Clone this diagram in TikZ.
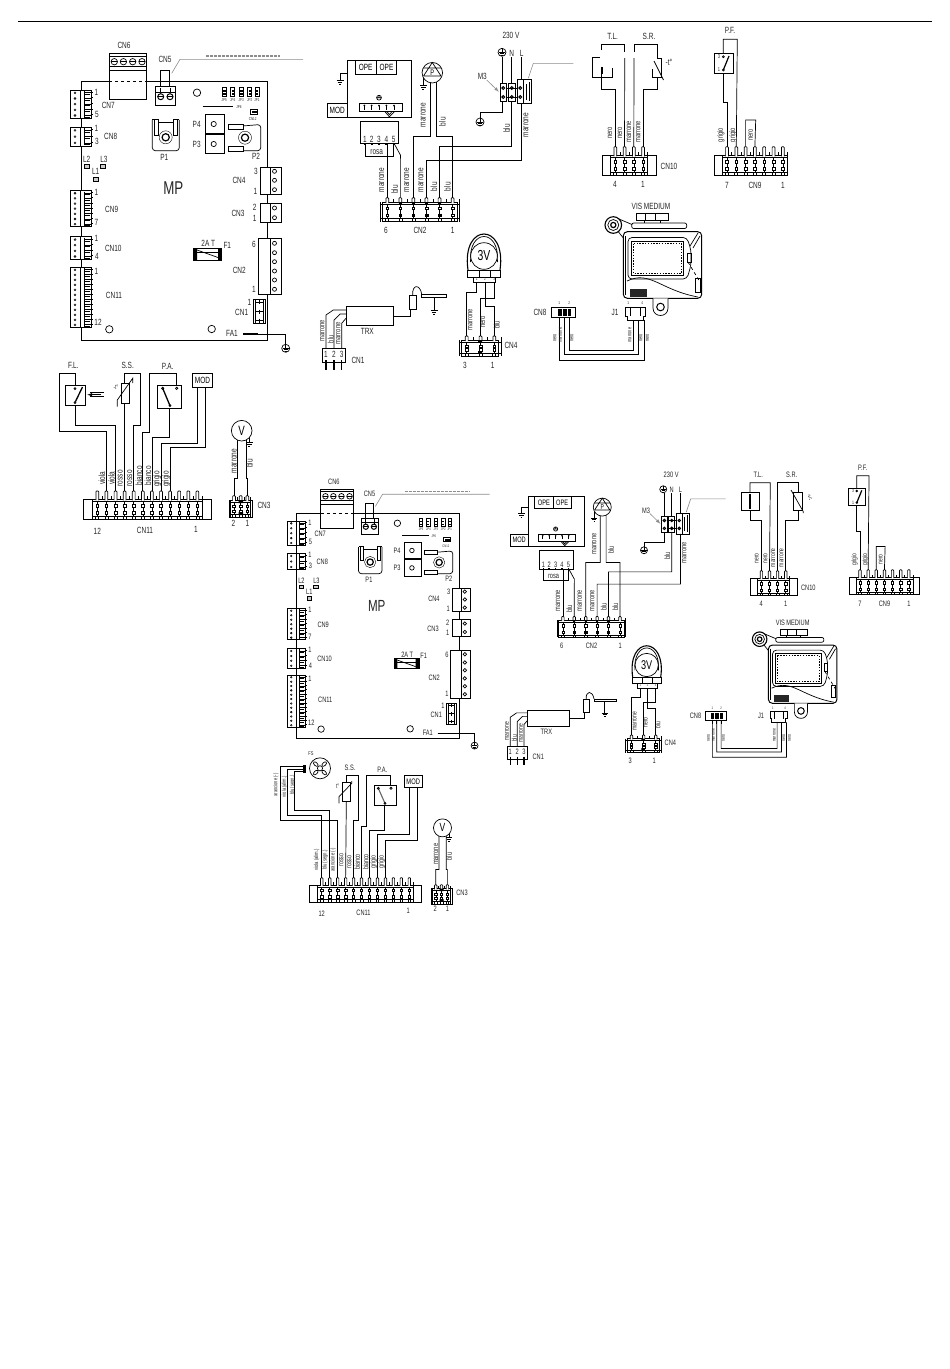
\documentclass[tikz,border=0pt]{standalone}
\usepackage{fontspec}
\setmainfont[FakeStretch=0.72]{Liberation Sans}
\tikzset{
  wire/.style={line width=.7pt},
  lead/.style={line width=.6pt,draw=black!45},
  lab/.style={inner sep=0pt,text=black!85,font=\fontsize{9}{10}\selectfont},
  wirelab/.style={lab,rotate=90},
  minilab/.style={lab,rotate=90,font=\fontsize{8}{8}\selectfont},
  tinylab/.style={lab,font=\fontsize{4.2}{5}\selectfont},
  devbox/.style={draw,line width=.7pt,fill=white,inner sep=0pt},
}
\newcommand{\earthsym}[2]{%
  \draw[wire,fill=white] (#1,#2) circle (4);
  \draw[wire] (#1,#2-4) -- (#1,#2) (#1-3,#2) -- (#1+3,#2) (#1-2,#2+1.5) -- (#1+2,#2+1.5) (#1-1,#2+3) -- (#1+1,#2+3);
}
\newcommand{\gndsym}[2]{%
  \draw[wire] (#1-3.5,#2) -- (#1+3.5,#2) (#1-2.3,#2+2) -- (#1+2.3,#2+2) (#1-1,#2+4) -- (#1+1,#2+4);
}
% name, left, top, right, bottom, first pin, pitch, pins, tip length
\newcommand{\hconn}[9]{%
  \draw[wire,fill=white] (#2,#3) rectangle (#4,#5);
  \pgfmathsetmacro{\combl}{#6-#7/2}
  \pgfmathsetmacro{\combr}{#6+(#8-.5)*#7}
  \draw[wire] (\combl,#3+2.5) -- (\combr,#3+2.5) (\combl,#5-3) -- (\combr,#5-3) (\combl,#3) -- (\combl,#5) (\combr,#3) -- (\combr,#5);
  \foreach \k in {1,...,#8}{
    \pgfmathsetmacro{\pinx}{#6+(\k-1)*#7}
    \coordinate (#1-\k) at (\pinx,#3-#9);
    \draw[wire,fill=white,rounded corners=.8pt] (\pinx-1.4,#3+1) -- (\pinx-1.4,#3-#9) -- (\pinx+1.4,#3-#9) -- (\pinx+1.4,#3+1);
    \draw[wire] (\pinx+#7/2,#3) -- (\pinx+#7/2,#3-3);
    \draw[line width=.5pt] (\pinx-1.3,#3+5) rectangle (\pinx+1.3,#3+7.5) (\pinx-1.3,#5-7.5) rectangle (\pinx+1.3,#5-5);
    \draw[line width=.5pt] (\pinx,#3+2.5) -- (\pinx,#3+5) (\pinx,#3+7.5) -- (\pinx,#5-7.5) (\pinx,#5-5) -- (\pinx,#5-3);
    \draw[wire] (\pinx+1.5,#5-3) -- (\pinx+1.5,#5) (\pinx-1.5,#5-3) -- (\pinx-1.5,#5);
  }
}
% side connector of the board: top, bottom, pins
\newcommand{\vconn}[3]{%
  \draw[wire,fill=white] (70.3,#1) rectangle (80.7,#2);
  \draw[wire,fill=white] (80.7,#1) rectangle (91.7,#2);
  \draw[wire] (84,#1+1) -- (84,#2-1);
  \foreach \k in {1,...,#3}{
    \pgfmathsetmacro{\piny}{#1+(\k-.5)*(#2-#1)/#3}
    \filldraw[line width=.4pt,fill=black!40] (75,\piny) circle (1);
    \draw[wire] (84,\piny) -- (91,\piny);
    \draw[line width=1pt] (90.5,\piny-.5) -- (92.7,\piny-.5);
    \draw[line width=.4pt] (84,\piny+1.4) -- (90,\piny+1.4);
  }
}
% screw terminal on the right edge: left, top, bottom, screws
\newcommand{\sideterm}[4]{%
  \draw[wire,fill=white] (#1,#2) rectangle (270,#3);
  \draw[wire,fill=white] (270,#2) rectangle (281,#3);
  \foreach \y in {#4} \draw[wire] (274.5,\y) circle (2);
}
\newcommand{\mpboard}{%
  \draw[wire] (81.3,81.3) rectangle (267.7,340.3);
  \draw[wire,fill=white] (109,53.3) rectangle (146.7,99);
  \draw[wire] (109,56) -- (146.7,56) (109,66.7) -- (146.7,66.7) (109,70.7) -- (146.7,70.7);
  \draw[wire,dashed] (109,81.3) -- (146.7,81.3);
  \foreach \x in {114.3,123.4,132.7,142}{
    \draw[wire] (\x,61.7) circle (3.2);
    \draw[wire] (\x-3,61.7) -- (\x+3,61.7);
  }
  \draw[wire] (160.7,86.7) -- (160.7,70) -- (169.3,70) -- (169.3,86.7);
  \draw[wire,fill=white] (155,86.7) rectangle (175,105.7);
  \draw[wire] (155,92) -- (175,92);
  \foreach \x in {160.7,170}{
    \draw[wire] (\x,88) -- (\x,93);
    \draw[line width=1pt] (\x,96.7) circle (3);
    \draw[wire] (\x-3,96.7) -- (\x+3,96.7);
  }
  \draw[lead] (171.7,73.3) -- (180,59.3) -- (303,59.3);
  \draw[lead,line width=1.2pt,dash pattern=on 3pt off 1pt] (206,56) -- (280,56);
  \vconn{90}{118.3}{5}
  \vconn{127.3}{146}{3}
  \vconn{190.7}{226.7}{7}
  \vconn{236.7}{259.3}{4}
  \vconn{267.3}{327.3}{12}
  \foreach \x/\y/\txt [count=\i] in {124/45.5/CN6,165/59/CN5,96.5/92.7/1,97/114/5,108.3/105/CN7,96.5/128.7/1,97/141.7/3,110.7/136.7/CN8,%
    86.7/159/L2,104/159/L3,95.7/171.7/L1,96.5/192.7/1,96.5/222.7/7,111.7/209.3/CN9,96.5/238.7/1,97/256/4,113.3/248.7/CN10,%
    96.5/271.7/1,98/322.3/12,114/295.7/CN11,164.3/157.3/P1,196.7/124/P4,196.7/144/P3,256/156.7/P2,256/171.3/3,255.3/191.3/1,%
    239/180/CN4,254.7/207.3/2,254.7/218.7/1,238/213.7/CN3,254/244/6,254/289.3/1,239.3/270.7/CN2,249.3/302/1,241.7/312.7/CN1,%
    232/333.3/FA1,208.3/243.5/2A T,227.3/245/F1}
    \node[lab] (board\i) at (\x,\y) {\txt};
  \node[lab,font=\fontsize{18.5}{20}\selectfont] (mptxt) at (173.3,188.3) {MP};
  \draw[wire,fill=black!20] (84.2,164) rectangle (89.2,168) (100.8,164) rectangle (105.8,168) (93.2,177) rectangle (98.2,181);
  \draw[wire,rounded corners=3pt] (152.3,120) -- (152.3,150.7) -- (179.3,150.7) -- (179.3,120);
  \draw[wire] (152.3,119.3) -- (158,119.3) -- (158,135) -- (154.5,135) -- (154.5,119.3);
  \draw[wire] (179.3,119.3) -- (173.5,119.3) -- (173.5,135) -- (177,135) -- (177,119.3);
  \draw[wire] (158,122.5) -- (173.5,122.5);
  \draw[line width=.4pt] (165.7,137.3) circle (6.5);
  \draw[line width=1.2pt] (165.7,137.3) circle (3.6);
  \draw[wire] (205,114.3) rectangle (224.3,133.3) (205,134) rectangle (224.3,153.3);
  \draw[wire] (213.7,124) circle (2.6) (213.7,144) circle (2.6);
  \draw[wire,rounded corners=3pt] (230,127) -- (260.7,124.5) -- (260.7,150.7) -- (230,150.7);
  \draw[wire,fill=white] (228.3,124.3) rectangle (243,129);
  \draw[wire,fill=white] (228.3,146.3) rectangle (243,151);
  \draw[line width=.4pt] (245,137.7) circle (6.5);
  \draw[line width=1.2pt] (245,137.7) circle (3.6);
  \draw[wire] (197,92.7) circle (3.7) (109.3,329.3) circle (3.7) (211.7,329) circle (3.7);
  \foreach \x/\txt [count=\i] in {224.3/JP5,232.7/JP4,241.3/JP3,249.7/JP2,257/JP1}{
    \draw[wire] (\x-1.9,87.3) rectangle (\x+1.9,96.7);
    \fill (\x-1.2,90) rectangle (\x+1.2,91.5);
    \fill (\x-1.2,93) rectangle (\x+1.2,94.5);
    \node[tinylab] (jp\i) at (\x,99.7) {\txt};
  }
  \draw[wire] (202.7,106.3) -- (233.3,106.3);
  \node[tinylab] (jpsix) at (239,107.3) {JP6};
  \draw[wire] (250,109.3) rectangle (257.3,114);
  \fill (252,110.5) rectangle (257,112.8);
  \node[tinylab] (cntwelve) at (252.7,118.7) {CN12};
  \sideterm{260}{167.3}{194.3}{171.3,180.3,189.7}
  \sideterm{260}{203.3}{222.3}{208,217.7}
  \sideterm{258.3}{238.3}{294.3}{243.3,252.7,261.7,271,280,289.3}
  \draw[wire] (253.3,299.3) rectangle (265,323.3) (255.5,299.3) -- (255.5,323.3) (263,299.3) -- (263,323.3);
  \foreach \y in {302,311.7,320.7} \draw[line width=.9pt] (256,\y) -- (262.5,\y) (259.2,\y-2) -- (259.2,\y+2);
  \draw[line width=1.3pt] (243.3,334) -- (258.3,334);
  \draw[wire] (258.3,334) -- (285.7,334) -- (285.7,344.3);
  \earthsym{285.7}{348.3}
  \draw[wire] (193.3,248) rectangle (221.7,260) (196,252) -- (219,252);
  \fill (193.3,248) rectangle (197,260) (218,248) rectangle (221.7,260);
  \draw[wire] (197,250) -- (218,257.5);
}
\newcommand{\maingroup}{%
  \draw[wire] (347.3,60.3) rectangle (411.7,117.3);
  \node[devbox,minimum width=21.3,minimum height=14] (opea) at (365.6,67.3) {\fontsize{9}{10}\selectfont OPE};
  \node[devbox,minimum width=20.4,minimum height=14] (opeb) at (386.5,67.3) {\fontsize{9}{10}\selectfont OPE};
  \node[devbox,minimum width=20,minimum height=14] (modb) at (337.3,110.3) {\fontsize{9}{10}\selectfont MOD};
  \draw[wire] (347.3,73.3) -- (340,73.3) -- (340,80);
  \gndsym{340}{80}
  \draw[wire] (359.3,103.3) rectangle (402,111.7);
  \foreach \x in {364.3,371.7,379,386.3,394}{
    \draw[wire] (\x,109.5) -- (\x,106);
    \fill (\x,105.5) circle (1);
  }
  \draw[wire] (379,97.7) circle (2.4) (379,95.3) -- (379,97.7) (377,97.7) -- (381,97.7);
  \draw[wire] (385,111.7) -- (389.3,116.7) -- (394.3,111.7) (387,111.7) -- (389.3,114.5) -- (392,111.7);
  \draw[wire,fill=white] (360,121.7) rectangle (398.7,143.3);
  \foreach \x/\txt [count=\i] in {365/1,371.7/2,379/3,386.3/4,393.7/5}{
    \node[lab] (rosn\i) at (\x,139) {\txt};
    \fill (\x-.9,142.7) rectangle (\x+.9,144.7);
  }
  \draw[wire] (365,144) |- (393.3,156.7) -- (393.3,144);
  \node[lab] (rosatxt) at (376.7,152) {rosa};
  \hconn{cntwo}{382.3}{202}{457.7}{221.7}{387.3}{13.05}{6}{4.3}
  \foreach \x in {400.4,413.4,426.5,439.5}{
    \fill (\x-1.3,201.5) rectangle (\x+1.3,204);
    \fill (\x-1.3,215) rectangle (\x+1.3,217);
  }
  \coordinate (rosafour) at (387.3,143.3);
  \coordinate (rosafive) at (394,143.3);
  \draw[wire] (rosafour) -- (cntwo-1);
  \draw[wire] (rosafive) -- (400.4,155) -- (cntwo-2);
  \coordinate (pumpl) at (430,81);
  \coordinate (pumpr) at (436.7,81);
  \draw[wire] (cntwo-3) |- (430,136) -- (pumpl);
  \draw[wire] (cntwo-6) |- (436.7,136) -- (pumpr);
  \draw[wire] (423.3,78.3) -- (423.3,85);
  \gndsym{423.3}{85}
  \node[circle,draw,line width=.7pt,fill=white,minimum size=20.5,inner sep=0pt] (pump) at (432.3,72.7) {\fontsize{8}{9}\selectfont P};
  \draw[wire] (423.5,68) -- (441,68) (423.5,76) -- (441,76) -- (432.3,62.5) -- (423.5,76);
  \foreach \x/\y/\txt [count=\i] in {511/35.7/230 V,511.7/53.3/N,521.7/53.3/L,482.3/76.7/M3}
    \node[lab] (mains\i) at (\x,\y) {\txt};
  \earthsym{502}{52.3}
  \draw[lead] (573.3,63.3) -- (533.3,63.3) -- (528.3,78.3);
  \draw[lead,-latex] (486.7,80) -- (498.8,91.7);
  \draw[wire] (502.7,57) -- (502.7,83.3) (511.7,57) -- (511.7,83.3) (521.7,57) -- (521.7,79.3);
  \draw[wire,fill=white] (500,83.3) rectangle (506.7,101);
  \draw[wire,fill=white] (508.3,83.3) rectangle (515,101);
  \draw[wire,fill=white] (517.3,79.3) rectangle (523.3,103.3);
  \draw[wire,fill=white] (523.3,79.3) rectangle (531.7,103.3);
  \foreach \x in {503.3,511.7,520.3}{
    \draw[line width=1pt] (\x,88) circle (1.4) (\x,97) circle (1.4);
  }
  \draw[line width=1pt] (506.7,88) -- (517.3,88) (506.7,97) -- (517.3,97);
  \fill (526,84) rectangle (527,100);
  \draw[wire] (529,82) -- (529,101);
  \coordinate (earthb) at (502.7,101);
  \coordinate (neub) at (511.7,101);
  \coordinate (linb) at (521.7,103.3);
  \draw[wire] (earthb) |- (480,112.7) -- (480,118);
  \earthsym{480}{122}
  \draw[wire] (cntwo-5) |- (511.7,146.7) -- (neub);
  \draw[wire] (cntwo-4) |- (521.7,160.7) -- (linb);
  \foreach \x/\y/\txt [count=\i] in {423.3/115/marrone,442.3/121.7/blu,506.7/128.3/blu,526/125/marrone,381.7/180/marrone,394.7/189.3/blu,%
    406.7/180/marrone,421/180/marrone,434/186.7/blu,447.3/186.7/blu}
    \node[wirelab] (mainw\i) at (\x,\y) {\txt};
  \foreach \x/\y/\txt [count=\i] in {386/230.7/6,420/230.7/CN2,452.7/230.7/1}
    \node[lab] (mainl\i) at (\x,\y) {\txt};
}
\newcommand{\cntenblock}{%
  \hconn{cnte}{602.3}{155.3}{656}{175}{615.3}{9.25}{4}{8.6}
  \foreach \x/\y/\txt [count=\i] in {615/184/4,643/184/1,669/166.7/CN10}
    \node[lab] (tenl\i) at (\x,\y) {\txt};
  \foreach \x/\y/\txt [count=\i] in {610/132.7/nero,620/132.7/nero,629/131.7/marrone,638.3/131.7/marrone}
    \node[minilab] (tenw\i) at (\x,\y) {\txt};
}
\newcommand{\pfgroup}[1]{%
  \hconn{cnni}{714.3}{155.3}{#1}{175}{727}{9.3}{7}{8.6}
  \node[lab] (pftxt) at (730,30) {P.F.};
  \draw[wire] (cnni-1) |- (723.3,102.7) -- (723.3,70);
  \draw[wire] (723.3,56.7) |- (737.3,39.3) -- (cnni-2);
  \draw[wire,fill=white] (714,53.3) rectangle (733.3,73.3);
  \draw[line width=1.2pt] (723.3,70) -- (729,56);
  \draw[wire] (723.3,56.7) circle (1) (723.3,70) circle (1);
  \node[tinylab,font=\fontsize{5.5}{6}\selectfont] (pfthree) at (719,56.7) {3};
  \node[tinylab,font=\fontsize{5.5}{6}\selectfont] (pfone) at (719,70) {1};
  \draw[wire] (cnni-3) |- (755.7,120) -- (cnni-4);
  \foreach \x/\y/\txt [count=\i] in {720.7/135/grigio,733/135/grigio,750.7/135/nero}
    \node[minilab] (pfw\i) at (\x,\y) {\txt};
  \foreach \x/\y/\txt [count=\i] in {727/185.7/7,755/185.7/CN9,783/185.7/1}
    \node[lab] (pfl\i) at (\x,\y) {\txt};
}
\newcommand{\trxgroup}{%
  \node[devbox,minimum width=47.3,minimum height=18.3] (trx) at (369.7,315.8) {};
  \node[lab] (trxtxt) at (367.3,331.7) {TRX};
  \node[lab] (cnonetxt) at (358,360.7) {CN1};
  \draw[wire,fill=white] (322.7,348.3) rectangle (345,362.7);
  \foreach \x/\txt [count=\i] in {326/1,334/2,341.7/3}{
    \coordinate (cnone-\i) at (\x,348.3);
    \node[lab] (cnonen\i) at (\x,354) {\txt};
    \draw[line width=1.2pt] (\x,360) -- (\x,370);
  }
  \draw[wire] (cnone-1) -- (326,315) -- (333.3,310) -- (346,310);
  \draw[wire] (cnone-2) -- (334,320) -- (340,314) -- (346,314);
  \draw[wire] (cnone-3) -- (341.7,323.3) -- (346,318.3);
  \draw[wire] (trx.east |- 0,316) -- (410.7,316) -- (410.7,309.3);
  \draw[wire,fill=white] (409.3,295) rectangle (416,309.3);
  \draw[wire] (412.7,295) .. controls (412,284) and (420,284) .. (421.7,294);
  \draw[wire,fill=white] (421.7,294) rectangle (446.7,297);
  \draw[wire] (434,297) -- (434,310);
  \gndsym{434}{310}
  \foreach \x/\y/\txt [count=\i] in {322.3/330.7/marrone,330.7/339.3/blu,338.3/333.3/marrone}
    \node[minilab] (trxw\i) at (\x,\y) {\txt};
}
\newcommand{\threevgroup}{%
  \draw[line width=1.1pt] (468,270) .. controls (461,222) and (507,222) .. (500,270);
  \draw[wire] (470.5,262) .. controls (468,228) and (500,228) .. (497.5,262);
  \node[circle,draw,line width=.7pt,fill=white,minimum size=26.6,inner sep=0pt] (threev) at (484,256) {\fontsize{14.5}{15}\selectfont 3V};
  \draw[wire,fill=white] (467.7,270) rectangle (500.7,277.3);
  \draw[wire,fill=white] (473.3,277.3) rectangle (495.7,282.7);
  \draw[wire] (479,270) -- (479,277.3) (490,270) -- (490,277.3);
  \foreach \x/\txt [count=\i] in {476.7/1,485/2,494.3/3}
    \node[tinylab] (threen\i) at (\x,279.5) {\txt};
  \hconn{cnfo}{461.7}{340}{498.3}{356}{466.7}{13.8}{3}{4}
  \fill (478,340) rectangle (482,342.5) (478,351) rectangle (482,353.5);
  \draw[wire] (cnfo-1) |- (476.7,292.7) -- (476.7,282.7);
  \draw[wire] (cnfo-2) |- (485,298.7) -- (485,282.7);
  \draw[wire] (cnfo-3) |- (485,306) -- (485,298.7) -- (494.3,298.7) -- (494.3,282.7);
  \foreach \x/\y/\txt [count=\i] in {470.3/320/marrone,483/321.7/nero,496.7/325/blu}
    \node[minilab] (threew\i) at (\x,\y) {\txt};
  \foreach \x/\y/\txt [count=\i] in {465/365.7/3,492.7/365.7/1,511/345/CN4}
    \node[lab] (threel\i) at (\x,\y) {\txt};
}
\newcommand{\visgroup}{%
  \node[lab] (vistxt) at (651,206) {VIS MEDIUM};
  \draw[wire,fill=white] (636.7,213.3) rectangle (668.3,220.7);
  \draw[wire] (645,213.3) -- (645,220.7) (655,213.3) -- (655,220.7);
  \draw[wire,rounded corners=2pt,fill=white] (631.7,223) rectangle (686.7,228.5);
  \draw[wire] (644,220.7) -- (644,223) (660,220.7) -- (660,223);
  \draw[line width=1.1pt] (613.3,225) circle (8.3);
  \draw[wire] (613.3,225) circle (5.5);
  \draw[line width=1.2pt] (613.3,225) circle (2.6);
  \draw[wire] (619,219) -- (632,224.5) (618.5,232) -- (625,240);
  \draw[line width=1pt,rounded corners=4pt,fill=white] (623.3,231.7) rectangle (701.7,298.3);
  \draw[line width=1.6pt] (625.5,236) -- (625.5,295);
  \draw[wire,rounded corners=4pt] (628,237.5) -- (687,237.5) -- (691,250) -- (691,265) -- (687,279) -- (628,279) -- cycle;
  \draw[wire,fill=white] (631.7,241.7) rectangle (683.3,275);
  \draw[line width=1.4pt,dash pattern=on 1.4pt off 1.4pt] (633.5,243.5) rectangle (681.5,273.3);
  \draw[wire] (627,281) .. controls (650,270) and (660,290) .. (698,297);
  \fill[black!85] (630,289.3) rectangle (646.7,296.7);
  \draw[wire] (690,246) -- (698,233) (693,248) -- (700,236);
  \draw[wire,dashed] (688,262) -- (700,282);
  \draw[wire] (687.5,253) rectangle (691,262) (695,278) rectangle (700,292);
  \draw[wire,fill=white] (653,298.3) -- (653,308) .. controls (653,318) and (668,318) .. (668,308) -- (668,298.3);
  \draw[line width=1pt] (660.5,307) circle (3.8);
  \draw[wire,fill=white] (551.7,307.3) rectangle (575,317.3);
  \fill (557.5,309) rectangle (571,316);
  \foreach \x in {559.3,564.3,569.3} \draw[white,line width=.4pt] (\x+2.5,309) -- (\x+2.5,316);
  \foreach \x [count=\i] in {559.3,564.3,569.3}{
    \coordinate (cnei-\i) at (\x,317.3);
    \draw[line width=1.1pt] (\x,317.3) -- (\x,322);
  }
  \draw[wire,fill=white] (625,307.3) -- (645,307.3) -- (645,316) -- (643,316) -- (643,320) -- (627,320) -- (627,316) -- (625,316) -- cycle;
  \draw[wire] (630,307.3) -- (630,316) (640,307.3) -- (640,316);
  \foreach \x [count=\i] in {633.3,638.3,644}
    \coordinate (jone-\i) at (\x,320);
  \draw[wire] (cnei-1) |- (644,360) -- (jone-3);
  \draw[wire] (cnei-2) |- (638.3,354) -- (jone-2);
  \draw[wire] (cnei-3) |- (633.3,350) -- (jone-1);
  \foreach \x/\y/\txt [count=\i] in {559.3/303.5/1,569.3/303.5/2,628.3/303.5/1,642.3/303.5/4}
    \node[tinylab] (vistiny\i) at (\x,\y) {\txt};
  \foreach \x/\y/\txt [count=\i] in {555/338/nero,560.5/335/marrone,572/338/nero,630/335/marrone,641/338/nero,647.5/338/nero}
    \node[minilab,font=\fontsize{5.5}{6}\selectfont] (visw\i) at (\x,\y) {\txt};
  \foreach \x/\y/\txt [count=\i] in {540/312.3/CN8,615/312.3/J1}
    \node[lab] (visl\i) at (\x,\y) {\txt};
}
\newcommand{\cnelevenblock}{%
  \hconn{cnel}{83.3}{499.3}{211.7}{519}{97.3}{9.1}{12}{8.3}
  \foreach \x/\y/\txt [count=\i] in {97.3/531.7/12,145/530.7/CN11,196/529/1}
    \node[lab] (cnell\i) at (\x,\y) {\txt};
}
\newcommand{\vgroup}{%
  \hconn{cnth}{229.3}{500}{252.7}{517.7}{234}{6.65}{3}{4.3}
  \fill (238.5,500) rectangle (243,503) (238.5,512) rectangle (243,515);
  \coordinate (vleft) at (237.7,440);
  \coordinate (vright) at (246,440);
  \draw[wire] (cnth-1) |- (237.7,478.3) -- (vleft);
  \draw[wire] (cnth-3) |- (246,478.3) -- (vright);
  \draw[wire] (249.3,436.7) -- (249.3,442);
  \gndsym{249.3}{442}
  \node[circle,draw,line width=.7pt,fill=white,minimum size=20.6,inner sep=0pt] (vmeter) at (241.7,430.7) {\fontsize{13.5}{14}\selectfont V};
  \foreach \x/\y/\txt [count=\i] in {234.3/461/marrone,249.3/463.3/blu}
    \node[wirelab] (vw\i) at (\x,\y) {\txt};
  \foreach \x/\y/\txt [count=\i] in {264/505/CN3,233.3/523.3/2,247.3/523.3/1}
    \node[lab] (vl\i) at (\x,\y) {\txt};
}
\begin{document}
\begin{tikzpicture}[x=1pt,y=-1pt]
  \useasboundingbox (0,0) rectangle (950,1369);
  \fill[white] (0,0) rectangle (950,1369);
  \draw[wire,line width=.9pt] (18,21) -- (932,21);

  % first boiler
  \mpboard
  \maingroup
  \cntenblock
  \pfgroup{787.3}
  \trxgroup
  \threevgroup
  \visgroup
  \cnelevenblock
  \vgroup

  \node[lab] (tltxt) at (612.7,36.7) {T.L.};
  \node[lab] (srtxt) at (649,36.7) {S.R.};
  \draw[wire] (cnte-1) |- (601.7,89.3) -- (601.7,74);
  \draw[wire] (600,57.3) -- (592.3,57.3) -- (592.3,77.3) -- (612.7,77.3) -- (612.7,68.3);
  \fill (600.5,67) rectangle (603,74);
  \draw[wire] (601.7,50) |- (624.7,44) -- (624.7,52);
  \draw[wire] (cnte-2) -- (624.7,58);
  \draw[wire] (cnte-3) -- (634,58);
  \draw[wire] (634,52) |- (657.3,44) -- (657.3,58);
  \draw[wire] (cnte-4) |- (657.3,89.3) -- (657.3,77.3);
  \draw[wire] (657.3,58) -- (661.7,58) -- (661.7,77.3) -- (652.7,77.3) -- (652.7,68.5);
  \draw[wire] (654,61) -- (663.5,80);
  \node[lab] (srt) at (669,62) {-t°};

  \node[lab] (fltxt) at (73.3,365) {F.L.};
  \node[devbox,minimum width=20.7,minimum height=20] (flbox) at (75.3,395.7) {};
  \coordinate (fltop) at (75,385.7);
  \coordinate (flbot) at (75.7,405.7);
  \draw[wire] (cnel-2) |- (59.3,431.7) |- (75,373.3) -- (fltop);
  \draw[wire] (cnel-3) |- (75.7,425.7) -- (flbot);
  \draw[line width=1.3pt] (75,402.5) -- (82.5,387);
  \draw[wire,fill=white] (75,388.7) circle (1) (75,402.5) circle (1);
  \draw[wire] (90,392.7) -- (104,392.7) (90,396.7) -- (104,396.7);
  \draw[wire,-latex] (101,394.7) -- (87.3,394.7);
  \node[lab] (sstxt) at (127.7,365) {S.S.};
  \node[devbox,minimum width=8.3,minimum height=20.4] (ssbox) at (125.2,393.5) {};
  \draw[wire] (cnel-4) -- (ssbox.south -| cnel-4);
  \draw[wire] (cnel-5) |- (140.7,425.7) |- (124.7,373.3) -- (ssbox.north -| 124.7,0);
  \draw[wire] (117.3,406.7) -- (117.3,400) -- (132.7,378.3) -- (132.7,383);
  \node[lab,font=\fontsize{6.5}{7}\selectfont] (sst) at (116,387.3) {-t°};
  \node[lab] (patxt) at (167.7,366.7) {P.A.};
  \node[devbox,minimum width=24.4,minimum height=22.6] (pabox) at (169.5,397) {};
  \draw[wire] (cnel-6) |- (149,432.3) |- (176,373.3) -- (176,385.7);
  \draw[wire] (cnel-7) |- (169,437.7) -- (169,408.3);
  \draw[line width=1.3pt] (162.7,388.3) -- (170,405.7);
  \draw[wire] (162.7,388.3) circle (1.2) (176.7,388.3) circle (1.2) (170,405.7) circle (1);
  \node[devbox,minimum width=19.6,minimum height=14] (mod) at (202.5,380.3) {\fontsize{9}{10}\selectfont MOD};
  \draw[wire] (cnel-8) |- (197.7,443) -- (197.7,387.3);
  \draw[wire] (cnel-9) |- (205.7,447.7) -- (205.7,387.3);
  \foreach \x/\y/\txt [count=\i] in {102/478.3/viola,111.3/478.3/viola,120.3/478.3/rosso,129.7/478.3/rosso,139/475.7/bianco,148/475.7/bianco,157/479/grigio,166.3/479/grigio}
    \node[wirelab] (elw\i) at (\x,\y) {\txt};

  % second boiler
  \begin{scope}[shift={(226,442.6)},scale=.87,transform shape]
    \mpboard
  \end{scope}
  \begin{scope}[shift={(224,443.5)},scale=.875,transform shape]
    \maingroup
  \end{scope}
  \begin{scope}[shift={(223,442.4)},scale=.875,transform shape]
    \cntenblock
  \end{scope}
  \begin{scope}[shift={(223.9,441.4)},scale=.875,transform shape]
    \pfgroup{794.7}
  \end{scope}
  \begin{scope}[shift={(225,441.6)},scale=.875,transform shape]
    \trxgroup
  \end{scope}
  \begin{scope}[shift={(223.2,441)},scale=.875,transform shape]
    \threevgroup
  \end{scope}
  \begin{scope}[shift={(223,442.3)},scale=.875,transform shape]
    \visgroup
  \end{scope}
  \begin{scope}[shift={(236.6,448.1)},scale=.875,transform shape]
    \cnelevenblock
  \end{scope}
  \begin{scope}[shift={(231,451)},scale=.875,transform shape]
    \vgroup
  \end{scope}

  \node[lab,scale=.875] (tltxtb) at (758.3,475) {T.L.};
  \node[lab,scale=.875] (srtxtb) at (791.7,475) {S.R.};
  \draw[wire] (741,492.3) rectangle (759.3,510.3);
  \draw[line width=1.6pt] (750,494) -- (750,509);
  \draw[wire] (cnte-1) |- (750,520) -- (750,510.3);
  \draw[wire] (750,492.3) |- (770.3,482.7) -- (cnte-2);
  \draw[wire] (cnte-3) |- (798.3,482.7) -- (798.3,492.3);
  \draw[wire] (cnte-4) |- (798.3,520) -- (798.3,510);
  \draw[wire] (793.3,492.3) rectangle (802.3,510);
  \draw[wire] (791,490) -- (803.3,511.7) -- (803.3,513);
  \node[lab,rotate=60,font=\fontsize{7}{7}\selectfont] (srtb) at (810,497.7) {-t°};

  \node[lab,font=\fontsize{5.5}{6}\selectfont] (fstxt) at (311,754) {FS};
  \node[circle,draw,line width=.7pt,fill=white,minimum size=21,inner sep=0pt] (fan) at (320,768.3) {};
  \draw[wire] (320,768.3) circle (2.6);
  \foreach \a in {45,135,225,315}
    \draw[wire,fill=white,rotate around={\a:(320,768.3)}] (326,768.3) ellipse (2.8 and 1.6);
  \fill (302.5,764.5) rectangle (306,773);
  \coordinate (fsa) at (302.5,766.7);
  \coordinate (fsb) at (302.5,769);
  \coordinate (fsc) at (302.5,771.7);
  \draw[wire] (fsa) -| (280,820) -| (cnel-3);
  \draw[wire] (fsb) -| (287.3,815.7) -| (cnel-1);
  \draw[wire] (fsc) -| (294,810.7) -| (cnel-2);
  \foreach \x/\y/\txt [count=\i] in {276/785/arancione (-),284.3/786.7/viola (alim.),292.3/785/blu (segn.)}
    \node[minilab,font=\fontsize{5.6}{6}\selectfont] (fsw\i) at (\x,\y) {\txt};
  \node[lab,scale=.875] (sstxtb) at (350,767.7) {S.S.};
  \node[devbox,minimum width=7.3,minimum height=19] (ssboxb) at (346.3,792.2) {};
  \draw[wire] (cnel-4) -- (ssboxb.south);
  \draw[wire] (cnel-5) |- (358.3,820) |- (346.3,775) -- (ssboxb.north);
  \draw[wire] (339,803.3) -- (339,796.7) -- (351.7,783.3) -- (351.7,781);
  \node[lab,font=\fontsize{6.5}{7}\selectfont] (sstb) at (337.7,786.7) {t°};
  \node[lab,scale=.875] (patxtb) at (382.3,770) {P.A.};
  \node[devbox,minimum width=21.7,minimum height=20] (paboxb) at (385.2,795.7) {};
  \draw[wire] (cnel-6) |- (366,826) |- (390,775.7) -- (390,785.7);
  \draw[wire] (cnel-7) |- (384,830) -- (384,805.7);
  \draw[line width=1.1pt,black!60] (378.3,788.3) -- (385,803.3);
  \draw[wire] (378.3,788.3) circle (1.1) (391,788.3) circle (1.1) (385,803.3) circle (1);
  \node[devbox,minimum width=17.7,minimum height=12] (modb2) at (413.2,781.7) {\fontsize{8}{9}\selectfont MOD};
  \draw[wire] (cnel-8) |- (409,834.3) -- (409,787.7);
  \draw[wire] (cnel-9) |- (417,840) -- (417,787.7);
  \foreach \x/\y/\txt [count=\i] in {316.7/860/viola (alim.),325/860/blu (segn.),333/860/arancione (-)}
    \node[wirelab,font=\fontsize{5.8}{6}\selectfont] (elwb\i) at (\x,\y) {\txt};
  \foreach \x/\y/\txt [count=\i] in {341.3/860/rosso,349.3/862/rosso,357.3/862/bianco,365.7/862/bianco,373.7/862/grigio,381.7/862/grigio}
    \node[wirelab,font=\fontsize{7.5}{8}\selectfont] (elwc\i) at (\x,\y) {\txt};
\end{tikzpicture}
\end{document}
